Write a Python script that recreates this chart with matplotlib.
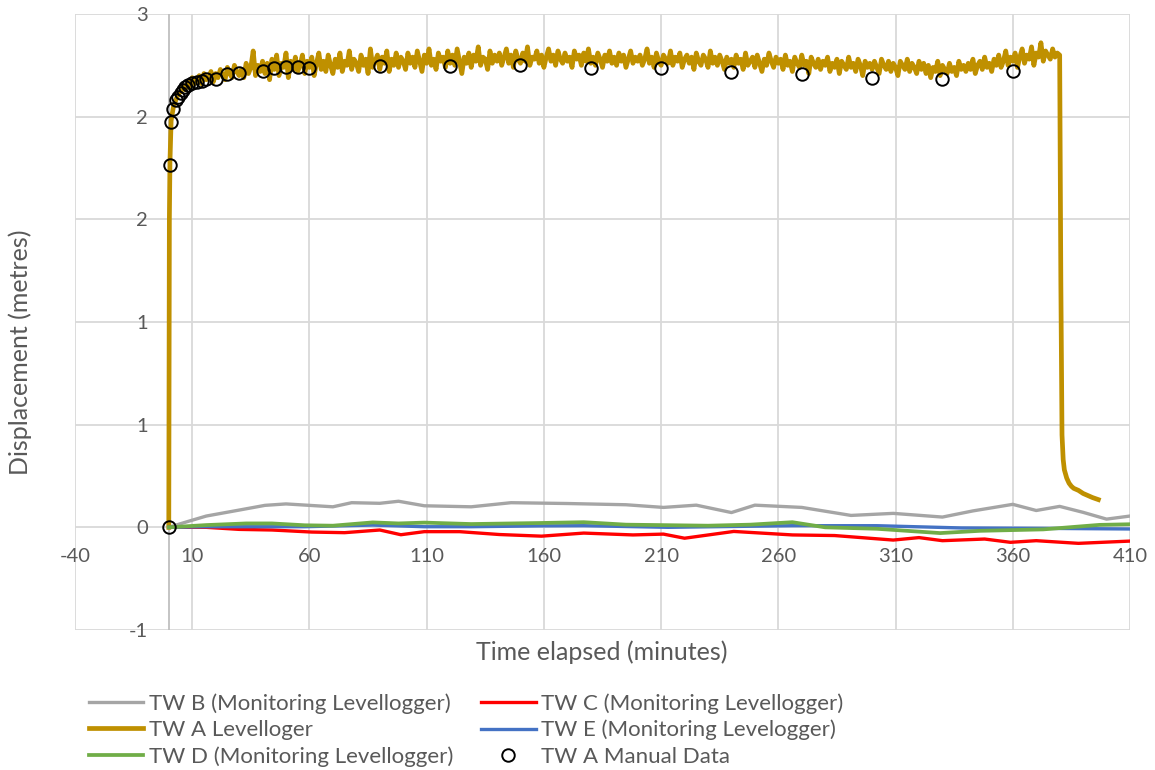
import numpy as np
import matplotlib.pyplot as plt

plt.rcParams['font.family'] = ['Lato', 'DejaVu Sans']
plt.rcParams['axes.unicode_minus'] = False

# ---- data (minutes, metres) ----
# TW A levellogger: start of pumping, 1-minute log, then recovery
tw_a_t_start = [0, 0.25, 0.5]
tw_a_start = [0.0, 1.50, 1.78]
tw_a_log = [
    1.98, 2.05, 2.08, 2.11, 2.12, 2.15, 2.13, 2.17, 2.14, 2.19, 2.16, 2.18, 2.20, 2.16, 2.21, 2.18, 2.19, 2.22, 2.17, 2.21,
    2.19, 2.23, 2.20, 2.18, 2.24, 2.21, 2.19, 2.25, 2.22, 2.20, 2.23, 2.19, 2.26, 2.21, 2.24, 2.32, 2.20, 2.25, 2.22, 2.27,
    2.21, 2.26, 2.18, 2.28, 2.23, 2.30, 2.20, 2.26, 2.24, 2.31, 2.19, 2.27, 2.23, 2.29, 2.22, 2.25, 2.30, 2.21, 2.27, 2.24,
    2.29, 2.20, 2.26, 2.31, 2.23, 2.27, 2.22, 2.30, 2.25, 2.21, 2.28, 2.24, 2.31, 2.22, 2.27, 2.25, 2.32, 2.23, 2.28, 2.26,
    2.22, 2.30, 2.25, 2.28, 2.21, 2.33, 2.24, 2.27, 2.30, 2.23, 2.29, 2.26, 2.32, 2.22, 2.28, 2.25, 2.31, 2.24, 2.29, 2.27,
    2.23, 2.31, 2.26, 2.29, 2.24, 2.32, 2.27, 2.22, 2.30, 2.26, 2.33, 2.25, 2.28, 2.23, 2.31, 2.27, 2.29, 2.24, 2.32, 2.26,
    2.30, 2.25, 2.33, 2.27, 2.21, 2.29, 2.26, 2.31, 2.24, 2.30, 2.27, 2.34, 2.25, 2.29, 2.28, 2.23, 2.32, 2.26, 2.30, 2.27,
    2.31, 2.25, 2.29, 2.33, 2.26, 2.30, 2.24, 2.32, 2.28, 2.26, 2.31, 2.27, 2.34, 2.25, 2.29, 2.28, 2.32, 2.26, 2.30, 2.24,
    2.29, 2.33, 2.27, 2.30, 2.25, 2.32, 2.28, 2.26, 2.31, 2.27, 2.29, 2.24, 2.32, 2.28, 2.30, 2.25, 2.31, 2.27, 2.33, 2.26,
    2.29, 2.25, 2.31, 2.28, 2.24, 2.30, 2.27, 2.32, 2.26, 2.29, 2.25, 2.31, 2.27, 2.30, 2.24, 2.28, 2.32, 2.26, 2.29, 2.27,
    2.30, 2.25, 2.28, 2.33, 2.26, 2.29, 2.24, 2.31, 2.27, 2.25, 2.30, 2.28, 2.26, 2.32, 2.25, 2.29, 2.27, 2.31, 2.24, 2.28,
    2.30, 2.26, 2.29, 2.23, 2.31, 2.27, 2.25, 2.30, 2.28, 2.24, 2.32, 2.26, 2.29, 2.25, 2.30, 2.27, 2.23, 2.29, 2.26, 2.28,
    2.24, 2.30, 2.26, 2.28, 2.23, 2.31, 2.25, 2.27, 2.29, 2.24, 2.30, 2.26, 2.22, 2.28, 2.25, 2.31, 2.27, 2.24, 2.29, 2.26,
    2.28, 2.23, 2.30, 2.25, 2.27, 2.22, 2.29, 2.26, 2.24, 2.30, 2.25, 2.27, 2.21, 2.29, 2.26, 2.24, 2.28, 2.23, 2.27, 2.25,
    2.29, 2.22, 2.26, 2.24, 2.28, 2.21, 2.27, 2.25, 2.23, 2.29, 2.24, 2.26, 2.22, 2.28, 2.25, 2.20, 2.27, 2.24, 2.26, 2.23,
    2.27, 2.24, 2.21, 2.28, 2.25, 2.23, 2.27, 2.22, 2.26, 2.24, 2.20, 2.27, 2.25, 2.23, 2.28, 2.22, 2.26, 2.24, 2.21, 2.27,
    2.23, 2.26, 2.21, 2.25, 2.19, 2.24, 2.22, 2.27, 2.20, 2.25, 2.23, 2.21, 2.26, 2.22, 2.24, 2.20, 2.27, 2.23, 2.25, 2.22,
    2.26, 2.23, 2.28, 2.21, 2.25, 2.27, 2.23, 2.29, 2.24, 2.26, 2.22, 2.28, 2.25, 2.30, 2.24, 2.27, 2.32, 2.25, 2.29, 2.27,
    2.31, 2.24, 2.29, 2.33, 2.26, 2.30, 2.28, 2.34, 2.25, 2.31, 2.29, 2.36, 2.27, 2.32, 2.30, 2.28, 2.33, 2.29, 2.31, 2.30,
]
tw_a_t_recover = [380.5, 381, 381.5, 382, 383, 384, 385, 386, 388, 390, 392, 394, 396.5]
tw_a_recover = [1.20, 0.45, 0.33, 0.28, 0.24, 0.215, 0.20, 0.19, 0.18, 0.165, 0.155, 0.145, 0.135]

manual_t = [0, 0.5, 1, 2, 3, 4, 5, 6, 7, 8, 10, 12, 14, 16, 20, 25, 30, 40, 45, 50, 55, 60,
            90, 120, 150, 180, 210, 240, 270, 300, 330, 360]
manual_v = [0, 1.765, 1.975, 2.037, 2.081, 2.097, 2.114, 2.130, 2.144, 2.154, 2.162, 2.170,
            2.175, 2.182, 2.182, 2.208, 2.214, 2.224, 2.236, 2.243, 2.243, 2.236,
            2.247, 2.247, 2.252, 2.236, 2.236, 2.219, 2.206, 2.19, 2.183, 2.222]

tw_b_t = [0, 8, 16, 30, 41, 50, 60, 70, 78, 90, 98, 109, 129, 146, 170, 195, 211, 225, 240,
          250, 270, 291, 309, 330, 343, 360, 370, 380, 390, 400, 410]
tw_b = [0, 0.028, 0.055, 0.084, 0.107, 0.114, 0.107, 0.10, 0.12, 0.117, 0.127, 0.105, 0.10,
        0.12, 0.116, 0.11, 0.097, 0.108, 0.072, 0.108, 0.097, 0.058, 0.068, 0.05, 0.08, 0.112,
        0.082, 0.102, 0.073, 0.04, 0.055]

tw_c_t = [0, 16, 30, 44, 61, 75, 90, 99, 109, 124, 141, 159, 177, 198, 211, 220, 241, 266,
          284, 309, 320, 330, 348, 359, 370, 388, 410]
tw_c = [0, 0, -0.01, -0.013, -0.023, -0.026, -0.013, -0.036, -0.021, -0.021, -0.035, -0.043,
        -0.028, -0.037, -0.033, -0.053, -0.02, -0.037, -0.04, -0.062, -0.05, -0.065, -0.057,
        -0.073, -0.065, -0.078, -0.067]

tw_d_t = [0, 16, 33, 44, 58, 70, 87, 98, 109, 129, 158, 177, 195, 230, 248, 266, 280, 302,
          329, 346, 373, 397, 410]
tw_d = [0, 0.011, 0.019, 0.019, 0.01, 0.008, 0.024, 0.019, 0.023, 0.016, 0.021, 0.025, 0.013,
        0.008, 0.013, 0.025, 0.0, -0.007, -0.028, -0.017, -0.01, 0.012, 0.015]

tw_e_t = [0, 16, 58, 87, 109, 129, 158, 177, 213, 266, 302, 338, 373, 410]
tw_e = [0, 0.003, 0.003, 0.011, 0.003, 0.003, 0.007, 0.008, 0.0, 0.008, 0.008, -0.003, -0.005, -0.008]

x_ticks = [-40, 10, 60, 110, 160, 210, 260, 310, 360, 410]
y_ticks = [-0.5, 0, 0.5, 1, 1.5, 2, 2.5]
y_tick_labels = ['-1', '0', '1', '1', '2', '2', '3']

# ---- plot ----
tw_a_t = tw_a_t_start + list(np.arange(1, len(tw_a_log) + 1)) + tw_a_t_recover
tw_a = tw_a_start + tw_a_log + tw_a_recover

fig = plt.figure(figsize=(11.55, 7.7), dpi=100)
ax = fig.add_axes([75 / 1155, 1 - 630 / 770, 1055 / 1155, 616 / 770])

grid_c = '#d9d9d9'
text_c = '#595959'

ax.axvline(0, color='#bfbfbf', lw=1.3, zorder=1)

lw = 2.4
l_b, = ax.plot(tw_b_t, tw_b, color='#a5a5a5', lw=lw, zorder=3, label='TW B (Monitoring Levellogger)')
l_c, = ax.plot(tw_c_t, tw_c, color='#ff0000', lw=lw, zorder=3, label='TW C (Monitoring Levellogger)')
l_a, = ax.plot(tw_a_t, tw_a, color='#bf9000', lw=3.4, zorder=4, label='TW A Levelloger')
l_e, = ax.plot(tw_e_t, tw_e, color='#4472c4', lw=lw, zorder=5, label='TW E (Monitoring Levelogger)')
l_d, = ax.plot(tw_d_t, tw_d, color='#70ad47', lw=2.7, zorder=6, label='TW D (Monitoring Levellogger)')
l_m, = ax.plot(manual_t, manual_v, ls='none', marker='o', ms=9, mfc='none', mec='black',
               mew=1.4, zorder=7, label='TW A Manual Data')

ax.set_xlim(-40, 410)
ax.set_ylim(-0.5, 2.5)
ax.set_xticks(x_ticks)
ax.set_yticks(y_ticks)
ax.set_yticklabels(y_tick_labels)
ax.grid(True, color=grid_c, lw=1.3, zorder=0)
ax.set_axisbelow(True)

for s in ['top', 'right', 'left', 'bottom']:
    ax.spines[s].set_visible(False)
# axes cross at (0, 0), labels sit next to them
ax.spines['bottom'].set_position(('data', 0))
ax.spines['left'].set_position(('data', 0))

ax.tick_params(axis='both', length=0, labelsize=14.5, labelcolor=text_c)
ax.tick_params(axis='x', pad=15)
ax.tick_params(axis='y', pad=15)

fig.text(602 / 1155, 1 - 652 / 770, 'Time elapsed (minutes)', ha='center', va='center',
         fontsize=18, color=text_c)
fig.text(20 / 1155, 1 - 352 / 770, 'Displacement (metres)', ha='center', va='center',
         rotation=90, fontsize=18, color=text_c)

handles = [l_b, l_a, l_d, l_c, l_e, l_m]
fig.legend(handles, [h.get_label() for h in handles],
           loc='upper left', bbox_to_anchor=(89 / 1155, 1 - 693 / 770), ncol=2,
           frameon=False, fontsize=16, labelcolor=text_c, handlelength=2.45,
           handletextpad=0.25, labelspacing=0.28, columnspacing=1.25, borderpad=0,
           borderaxespad=0)

fig.savefig('out.png', dpi=100)
